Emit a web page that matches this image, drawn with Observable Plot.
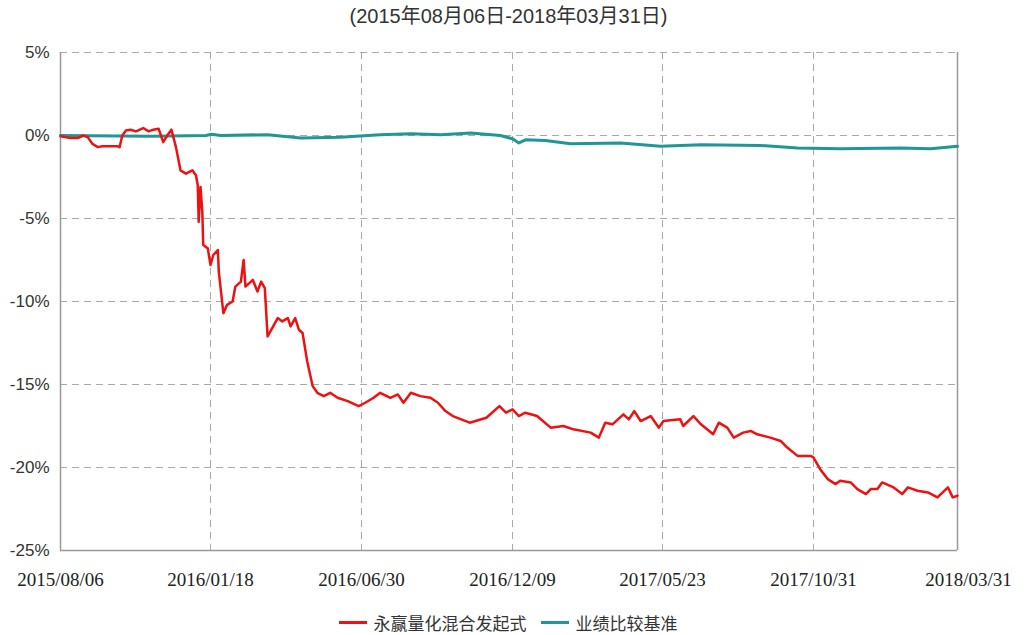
<!DOCTYPE html>
<html>
<head>
<meta charset="utf-8">
<script src="https://cdn.jsdelivr.net/npm/d3@7"></script>
<script src="https://cdn.jsdelivr.net/npm/@observablehq/plot@0.6"></script>
<style>
  html, body { margin: 0; padding: 0; background: #fff; }
  #wrap { width: 1028px; height: 635px; position: relative; }
  #title { height: 40px; line-height: 44px; text-align: center; padding-right: 11px;
    font: 20px "Liberation Sans", "Noto Sans CJK SC", sans-serif; color: #333; }
  #chart svg { display: block; }
  #legend { height: 30px; display: flex; justify-content: center; align-items: center;
    padding-right: 12px; padding-top: 14px; box-sizing: border-box;
    font: 17px "Noto Sans CJK SC", sans-serif; line-height: 17px; color: #333; }
  .item { display: flex; align-items: center; margin: 0 7px; }
  .sw { display: inline-block; width: 28px; height: 3px; margin-right: 7px; }
</style>
</head>
<body>
<div id="wrap">
  <div id="title">(2015年08月06日-2018年03月31日)</div>
  <div id="chart"></div>
  <div id="legend"></div>
</div>
<script>
// ---- data ----
const titleText = "(2015年08月06日-2018年03月31日)";
const seriesNames = ["永赢量化混合发起式", "业绩比较基准"];
const seriesColors = ["#ee1111", "#209696"];

const xTickDates = ["2015-08-06", "2016-01-18", "2016-06-30", "2016-12-09", "2017-05-23", "2017-10-31", "2018-03-31"];
const yTickValues = [-25, -20, -15, -10, -5, 0, 5];

const fundDates = [
  "2015-08-06","2015-08-17","2015-08-25","2015-08-31","2015-09-05","2015-09-10","2015-09-16","2015-09-21",
  "2015-10-08","2015-10-10","2015-10-13","2015-10-17","2015-10-22","2015-10-28","2015-11-05","2015-11-11",
  "2015-11-16","2015-11-22","2015-11-27","2015-12-02","2015-12-06","2015-12-11","2015-12-16","2015-12-22",
  "2015-12-29","2016-01-02","2016-01-04","2016-01-05","2016-01-07","2016-01-09","2016-01-10","2016-01-15",
  "2016-01-18","2016-01-21","2016-01-26","2016-01-27","2016-02-01","2016-02-05","2016-02-11","2016-02-14",
  "2016-02-20","2016-02-23","2016-02-25","2016-03-04","2016-03-09","2016-03-13","2016-03-17","2016-03-20",
  "2016-03-25","2016-03-31","2016-04-05","2016-04-11","2016-04-14","2016-04-19","2016-04-23","2016-04-27",
  "2016-05-02","2016-05-08","2016-05-13","2016-05-20","2016-05-27","2016-06-04","2016-06-15","2016-06-27",
  "2016-07-04","2016-07-13","2016-07-20","2016-07-31","2016-08-08","2016-08-14","2016-08-22","2016-09-01",
  "2016-09-12","2016-09-20","2016-09-28","2016-10-06","2016-10-24","2016-11-11","2016-11-25","2016-12-02",
  "2016-12-09","2016-12-16","2016-12-23","2017-01-05","2017-01-20","2017-02-03","2017-02-14","2017-03-05",
  "2017-03-14","2017-03-21","2017-03-29","2017-04-10","2017-04-16","2017-04-22","2017-04-29","2017-05-10",
  "2017-05-19","2017-05-24","2017-06-11","2017-06-14","2017-06-25","2017-07-03","2017-07-16","2017-07-22",
  "2017-07-31","2017-08-07","2017-08-17","2017-08-25","2017-09-01","2017-09-15","2017-09-26","2017-10-03",
  "2017-10-14","2017-10-28","2017-10-31","2017-11-07","2017-11-15","2017-11-23","2017-11-28","2017-12-09",
  "2017-12-16","2017-12-25","2017-12-30","2018-01-06","2018-01-11","2018-01-23","2018-02-01","2018-02-07",
  "2018-02-17","2018-02-28","2018-03-10","2018-03-21","2018-03-26","2018-03-31"
];
const fundValues = [
  -0.05,-0.15,-0.15,0.0,-0.1,-0.5,-0.7,-0.65,
  -0.65,-0.7,0.0,0.3,0.35,0.25,0.45,0.25,
  0.35,0.4,-0.4,0.05,0.35,-0.7,-2.1,-2.3,
  -2.1,-2.4,-3.0,-5.2,-3.1,-4.6,-6.6,-6.8,
  -7.8,-7.2,-6.9,-8.2,-10.7,-10.2,-10.0,-9.1,
  -8.8,-7.5,-9.1,-8.7,-9.4,-8.8,-9.2,-12.1,
  -11.6,-11.0,-11.2,-11.0,-11.5,-11.0,-11.7,-11.9,
  -13.6,-15.1,-15.5,-15.7,-15.5,-15.8,-16.0,-16.3,
  -16.1,-15.8,-15.5,-15.8,-15.6,-16.1,-15.5,-15.7,
  -15.8,-16.1,-16.6,-16.9,-17.3,-17.0,-16.3,-16.7,
  -16.5,-16.9,-16.7,-16.9,-17.6,-17.5,-17.7,-17.9,
  -18.2,-17.3,-17.4,-16.8,-17.1,-16.6,-17.2,-16.9,
  -17.6,-17.2,-17.1,-17.5,-16.9,-17.4,-18.0,-17.3,
  -17.6,-18.2,-17.9,-17.8,-18.0,-18.2,-18.4,-18.8,
  -19.3,-19.3,-19.4,-20.1,-20.7,-21.0,-20.8,-20.9,
  -21.3,-21.6,-21.3,-21.3,-20.9,-21.2,-21.6,-21.2,
  -21.4,-21.5,-21.8,-21.2,-21.8,-21.7
];

const benchDates = [
  "2015-08-06","2015-11-13","2016-01-13","2016-01-19","2016-01-29","2016-03-20","2016-04-25","2016-06-07",
  "2016-07-20","2016-08-22","2016-09-23","2016-10-25","2016-11-26","2016-12-09","2016-12-16","2016-12-24",
  "2017-01-14","2017-02-11","2017-04-07","2017-05-21","2017-07-03","2017-09-04","2017-10-14","2017-11-28",
  "2018-01-30","2018-03-03","2018-03-31"
];
const benchValues = [
  0.0,-0.05,0.0,0.08,0.0,0.05,-0.15,-0.1,
  0.05,0.1,0.05,0.15,0.0,-0.2,-0.45,-0.25,
  -0.3,-0.5,-0.45,-0.65,-0.55,-0.6,-0.75,-0.8,
  -0.75,-0.8,-0.65
];

// ---- build ----
const parse = d3.utcParse("%Y-%m-%d");
const fund = fundDates.map((d, i) => ({date: parse(d), value: fundValues[i]}));
const bench = benchDates.map((d, i) => ({date: parse(d), value: benchValues[i]}));
const xTicks = xTickDates.map(parse);
const fmt = d3.utcFormat("%Y/%m/%d");

const W = 1028, H = 560;
const mL = 60, mR = 71, mT = 12, mB = 50;
const gridStyle = {stroke: "#aaa", strokeOpacity: 1, strokeDasharray: "7,5", strokeWidth: 1};
const axisColor = "#999";

const chart = Plot.plot({
  width: W,
  height: H,
  marginLeft: mL,
  marginRight: mR,
  marginTop: mT,
  marginBottom: mB,
  style: {background: "#fff", color: "#333", overflow: "visible"},
  x: {type: "utc", domain: xTicks, range: [60, 210, 361, 512, 662, 813, 957], label: null},
  y: {domain: [-25, 5], label: null},
  marks: [
    Plot.gridY(yTickValues.filter(v => v > -25), gridStyle),
    Plot.gridX(xTicks.slice(1, -1), gridStyle),
    Plot.ruleX([xTicks[0], xTicks[xTicks.length - 1]], {stroke: axisColor, strokeWidth: 1.5}),
    Plot.ruleY([-25], {stroke: axisColor, strokeWidth: 1.5}),
    Plot.axisY(yTickValues, {tickSize: 0, tickPadding: 11, tickFormat: d => d + "%",
      fontSize: 17, fontFamily: "Liberation Sans", fill: "#333", label: null}),
    Plot.axisX(xTicks.slice(0, -1), {tickSize: 0, tickPadding: 22, tickFormat: fmt,
      fontSize: 19, fontFamily: "Liberation Serif", fill: "#222", label: null}),
    Plot.axisX(xTicks.slice(-1), {tickSize: 0, tickPadding: 22, tickFormat: fmt, dx: 11,
      fontSize: 19, fontFamily: "Liberation Serif", fill: "#222", label: null}),
    Plot.line(bench, {x: "date", y: "value", stroke: seriesColors[1], strokeWidth: 3}),
    Plot.line(fund, {x: "date", y: "value", stroke: seriesColors[0], strokeWidth: 2.5})
  ]
});
document.getElementById("chart").appendChild(chart);

document.getElementById("title").textContent = titleText;
const legend = document.getElementById("legend");
seriesNames.forEach((name, i) => {
  const item = document.createElement("div");
  item.className = "item";
  const sw = document.createElement("span");
  sw.className = "sw";
  sw.style.background = seriesColors[i];
  const lab = document.createElement("span");
  lab.textContent = name;
  item.appendChild(sw);
  item.appendChild(lab);
  legend.appendChild(item);
});
</script>
</body>
</html>
